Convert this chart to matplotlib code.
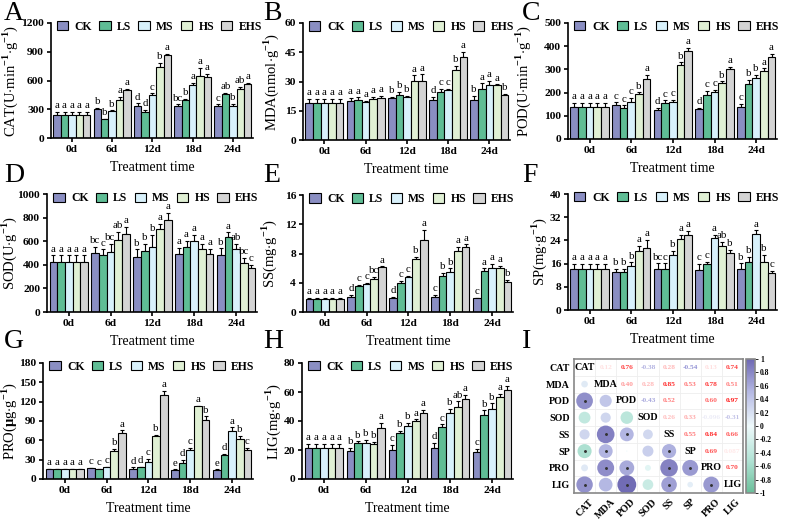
import numpy as np
import matplotlib.pyplot as plt
from matplotlib.patches import Patch
from matplotlib.colors import LinearSegmentedColormap

plt.rcParams['font.family'] = 'Liberation Serif'
plt.rcParams['font.weight'] = 'bold'
plt.rcParams['mathtext.fontset'] = 'custom'
plt.rcParams['mathtext.rm'] = 'Liberation Serif:bold'
plt.rcParams['mathtext.bf'] = 'Liberation Serif:bold'
plt.rcParams['axes.linewidth'] = 1.2

days = ['0d', '6d', '12d', '18d', '24d']
treatments = ['CK', 'LS', 'MS', 'HS', 'EHS']
colors = ['#8a8ec2', '#5fbd95', '#d8f1fb', '#e0f0d4', '#d4d4d4']

# each row = one day, columns = CK, LS, MS, HS, EHS
cat_mean = [[245, 245, 245, 245, 245], [298, 198, 278, 400, 504], [332, 271, 445, 742, 862],
            [332, 400, 557, 652, 636], [332, 463, 332, 511, 560]]
cat_err = [[25, 25, 25, 25, 25], [15, 5, 10, 30, 10], [30, 20, 20, 40, 15],
           [20, 10, 20, 80, 30], [20, 5, 25, 20, 15]]
cat_sig = [['a'] * 5, ['b', 'b', 'b', 'a', 'a'], ['d', 'd', 'c', 'b', 'a'],
           ['bc', 'b', 'a', 'a', 'a'], ['c', 'ab', 'b', 'ab', 'a']]

mda_mean = [[19, 19, 19, 19, 19], [20, 20.3, 19.5, 20.8, 21.3], [21.5, 23, 22.3, 30.2, 30.2],
            [20.3, 24.8, 25.8, 36, 42.5], [20.5, 26, 28, 28, 23.2]]
mda_err = [[2, 2, 2, 2, 2], [1.5, 1.5, 0.5, 1.2, 1.5], [0.7, 1.5, 0.5, 3, 3.5],
           [2, 1.5, 0.5, 2, 2.5], [2, 3, 2.5, 0.5, 0.5]]
mda_sig = [['a'] * 5, ['a'] * 5, ['b', 'b', 'b', 'a', 'a'],
           ['d', 'c', 'c', 'b', 'a'], ['b', 'a', 'a', 'a', 'b']]

pod_mean = [[140, 140, 140, 140, 140], [148, 133, 158, 193, 260], [125, 155, 160, 318, 378],
            [128, 188, 203, 243, 300], [138, 236, 262, 292, 352]]
pod_err = [[15, 15, 15, 15, 15], [10, 12, 18, 8, 15], [10, 12, 10, 12, 15],
           [5, 20, 10, 5, 10], [15, 20, 15, 12, 15]]
pod_sig = [['a'] * 5, ['c', 'c', 'c', 'b', 'a'], ['d', 'c', 'c', 'b', 'a'],
           ['d', 'c', 'c', 'b', 'a'], ['c', 'b', 'b', 'a', 'a']]

sod_mean = [[420, 420, 420, 420, 420], [500, 480, 505, 610, 660], [465, 515, 555, 700, 780],
            [495, 555, 598, 530, 490], [480, 635, 530, 418, 372]]
sod_err = [[60, 60, 60, 60, 60], [55, 50, 70, 70, 60], [65, 60, 100, 45, 60],
           [50, 45, 55, 50, 45], [60, 40, 50, 40, 25]]
sod_sig = [['a'] * 5, ['bc', 'c', 'bc', 'ab', 'a'], ['b', 'b', 'b', 'a', 'a'],
           ['a'] * 5, ['b', 'a', 'ab', 'bc', 'c']]

ss_mean = [[1.8, 1.8, 1.8, 1.8, 1.8], [2.0, 3.55, 3.85, 4.5, 6.1], [1.9, 3.95, 4.85, 7.2, 9.85],
           [2.1, 4.9, 5.45, 8.3, 8.9], [1.85, 5.65, 5.95, 5.95, 4.05]]
ss_err = [[0.1, 0.1, 0.1, 0.1, 0.1], [0.3, 0.2, 0.1, 0.3, 0.15], [0.15, 0.3, 0.1, 0.3, 1.4],
          [0.25, 0.4, 0.5, 0.6, 0.35], [0.1, 0.3, 0.6, 0.4, 0.35]]
ss_sig = [['a'] * 5, ['d', 'c', 'c', 'bc', 'a'], ['d', 'c', 'c', 'b', 'a'],
          ['c', 'b', 'b', 'a', 'a'], ['c', 'a', 'a', 'a', 'b']]

sp_mean = [[14, 14, 14, 14, 14], [13.2, 13.2, 15.2, 20.5, 21.5], [14.3, 14.1, 18.8, 24.5, 26],
           [13.8, 15.8, 25, 22.2, 19.8], [14.3, 16.5, 26.2, 16.7, 12.6]]
sp_err = [[1.8, 1.8, 1.8, 1.8, 1.8], [1, 1, 1.2, 1.5, 2.7], [1.8, 2, 1.5, 1.5, 1.3],
          [2.2, 0.8, 1, 1.2, 1], [1.8, 1.8, 1.3, 2.3, 1]]
sp_sig = [['a'] * 5, ['b', 'b', 'b', 'a', 'a'], ['bc', 'c', 'b', 'a', 'a'],
          ['c', 'c', 'a', 'ab', 'b'], ['b', 'b', 'a', 'b', 'c']]

pro_mean = [[15, 15, 15, 15, 15], [16.5, 15, 18.5, 43, 72], [15, 18, 26, 66, 131],
            [14.5, 25, 45, 113, 91], [13.5, 38, 75, 62, 45]]
pro_err = [[1, 1, 1, 1, 1], [1, 1, 0.5, 4, 3.5], [3, 1, 5, 3, 6],
           [0.5, 5, 3, 1, 6], [1.5, 1.5, 5, 5, 3.5]]
pro_sig = [['a'] * 5, ['c', 'c', 'c', 'b', 'a'], ['d', 'd', 'c', 'b', 'a'],
           ['e', 'd', 'c', 'a', 'b'], ['e', 'd', 'a', 'b', 'c']]

lig_mean = [[21.5, 21.5, 21.5, 21.5, 21.5], [19.5, 24.8, 24.8, 24, 35.5], [20, 31.8, 36.3, 39.7, 45.3],
            [21.2, 36.2, 45.3, 50, 55.5], [18.5, 43.8, 48.6, 56.6, 61.5]]
lig_err = [[2.5, 2.5, 2.5, 2.5, 2.5], [2, 1.2, 2, 1.5, 3], [3.5, 1.5, 2.5, 1.5, 2.5],
           [3.5, 1.5, 3, 3.5, 2.5], [2.5, 3.5, 3.5, 2, 2.5]]
lig_sig = [['a'] * 5, ['b', 'b', 'b', 'b', 'a'], ['c', 'b', 'b', 'a', 'a'],
           ['d', 'c', 'b', 'ab', 'a'], ['c', 'b', 'b', 'a', 'a']]

indices = ['CAT', 'MDA', 'POD', 'SOD', 'SS', 'SP', 'PRO', 'LIG']
corr = [[1.00, 0.12, 0.76, -0.38, 0.28, -0.54, 0.13, 0.74],
        [0.12, 1.00, 0.40, 0.28, 0.85, 0.53, 0.78, 0.51],
        [0.76, 0.40, 1.00, -0.43, 0.52, 0.004, 0.60, 0.97],
        [-0.38, 0.28, -0.43, 1.00, 0.26, 0.33, -0.096, -0.31],
        [0.28, 0.85, 0.52, 0.26, 1.00, 0.55, 0.84, 0.66],
        [-0.54, 0.53, 0.004, 0.33, 0.55, 1.00, 0.69, 0.087],
        [0.13, 0.78, 0.60, -0.096, 0.84, 0.69, 1.00, 0.70],
        [0.74, 0.51, 0.97, -0.31, 0.66, 0.087, 0.70, 1.00]]

W, H = 785, 519
fig = plt.figure(figsize=(W / 100, H / 100), dpi=100)


def px_axes(left, right, top, bottom):
    return fig.add_axes([left / W, 1 - bottom / H, (right - left) / W, (bottom - top) / H])


def bar_panel(box, mean, err, sig, ymax, step, ylabel, ylab_off):
    ax = px_axes(*box)
    mean = np.array(mean)
    err = np.array(err)
    x = np.arange(len(days))
    bw = 0.184
    for k in range(len(treatments)):
        xs = x + (k - 2) * bw
        ax.bar(xs, mean[:, k], bw, color=colors[k], edgecolor='black', linewidth=0.8, zorder=2)
        ax.errorbar(xs, mean[:, k], yerr=[np.zeros(len(days)), err[:, k]], fmt='none',
                    ecolor='black', elinewidth=0.8, capsize=1.6, capthick=0.8, zorder=1)
        for d in range(len(days)):
            ax.text(xs[d], mean[d, k] + err[d, k] + ymax * 0.015, sig[d][k],
                    ha='center', va='bottom', fontsize=7.8, fontweight='normal')
    ax.set_xlim(-0.52, 4.5)
    ax.set_ylim(0, ymax)
    ax.set_yticks(np.arange(0, ymax + step / 2, step))
    ax.set_xticks(x)
    ax.set_xticklabels(days)
    ax.spines['top'].set_visible(False)
    ax.spines['right'].set_visible(False)
    ax.tick_params(direction='out', length=3, width=1.2, labelsize=8.2, pad=2)
    ax.set_xlabel('Treatment time', fontsize=10, labelpad=5)
    ax.set_ylabel(ylabel, fontsize=10.5)
    ax.yaxis.set_label_coords((ylab_off + 7) / (box[1] - box[0]), 0.5)
    handles = [Patch(facecolor=c, edgecolor='black', linewidth=0.8) for c in colors]
    ax.legend(handles, treatments, ncol=5, loc='center left', bbox_to_anchor=(0.03, 0.965),
              frameon=False, fontsize=8.5, handlelength=0.95, handleheight=0.8,
              handletextpad=0.55, columnspacing=0.6, borderpad=0, borderaxespad=0)
    return ax


bar_panel((51, 253, 23, 138), cat_mean, cat_err, cat_sig, 1200, 300,
          r'CAT(U$\cdot$min$^{-1}$$\cdot$g$^{-1}$)', -38)
bar_panel((303, 510, 23, 140), mda_mean, mda_err, mda_sig, 60, 15,
          r'MDA(nmol$\cdot$g$^{-1}$)', -29)
bar_panel((568, 777, 23, 139), pod_mean, pod_err, pod_sig, 500, 100,
          r'POD(U$\cdot$min$^{-1}$$\cdot$g$^{-1}$)', -42)
bar_panel((47, 257, 194, 312), sod_mean, sod_err, sod_sig, 1000, 200,
          r'SOD(U$\cdot$g$^{-1}$)', -35)
bar_panel((303, 513, 195, 312), ss_mean, ss_err, ss_sig, 16, 4,
          r'SS(mg$\cdot$g$^{-1}$)', -31)
bar_panel((568, 777, 194, 310), sp_mean, sp_err, sp_sig, 40, 8,
          r'SP(mg$\cdot$g$^{-1}$)', -26)
bar_panel((43, 253, 363, 479), pro_mean, pro_err, pro_sig, 180, 30,
          r'PRO($\mathrm{\mu}$g$\cdot$g$^{-1}$)', -31)
bar_panel((302, 513, 363, 479), lig_mean, lig_err, lig_sig, 80, 20,
          r'LIG(mg$\cdot$g$^{-1}$)', -26)

# correlation panel
cmap = LinearSegmentedColormap.from_list(
    'corr', ['#6bbf9a', '#b3e3d6', '#eef9fb', '#b6bae4', '#6e68b3'])
axc = px_axes(574, 743, 359, 493)
n = len(indices)
r = np.array(corr)
for k in range(1, n):
    axc.axhline(k - 0.5, color='#eeeeee', lw=0.6, zorder=0)
    axc.axvline(k - 0.5, color='#eeeeee', lw=0.6, zorder=0)
for i in range(n):
    for j in range(n):
        v = r[i, j]
        if i == j:
            axc.text(j, i, indices[i], ha='center', va='center', fontsize=7.2)
        elif j > i:
            txt = f'{v:.3f}' if abs(v) < 0.1 else f'{v:.2f}'
            c = '#ff1a1a' if v > 0 else '#4a4ab8'
            axc.text(j, i, txt, ha='center', va='center', fontsize=5.3, color=c,
                     alpha=min(1, abs(v) * 1.1))
        else:
            axc.scatter(j, i, s=190 * abs(v), color=cmap((v + 1) / 2), edgecolors='none', zorder=2)
            if abs(v) > 0.515:
                axc.scatter(j, i, s=1.2, color='#333333', zorder=3)
axc.set_xlim(-0.5, n - 0.5)
axc.set_ylim(n - 0.5, -0.5)
axc.set_xticks(range(n))
axc.set_yticks(range(n))
axc.set_xticklabels(indices, rotation=45, fontsize=7.2)
axc.set_yticklabels(indices, fontsize=7.2)
axc.tick_params(length=0, pad=3)
for s in axc.spines.values():
    s.set_color('#888888')
    s.set_linewidth(1.2)

cax = px_axes(746, 755, 359, 493)
sm = plt.cm.ScalarMappable(cmap=cmap, norm=plt.Normalize(-1, 1))
cb = fig.colorbar(sm, cax=cax)
ticks = np.round(np.arange(-1, 1.01, 0.2), 1)
cb.set_ticks(ticks)
cb.set_ticklabels(['-1' if t == -1 else '1' if t == 1 else '0' if t == 0 else f'{t:g}' for t in ticks])
cb.ax.tick_params(labelsize=5.5, length=2, width=0.6, pad=1.5)
cb.outline.set_edgecolor('#888888')

for lab, xp, yp in [('A', 4, 1), ('B', 263, 1), ('C', 522, 1), ('D', 4, 163), ('E', 263, 163),
                    ('F', 522, 163), ('G', 4, 329), ('H', 263, 329), ('I', 522, 329)]:
    fig.text(xp / W, 1 - yp / H, lab, fontsize=20, fontweight='normal', va='top', ha='left')

fig.savefig('out.png', dpi=100)
